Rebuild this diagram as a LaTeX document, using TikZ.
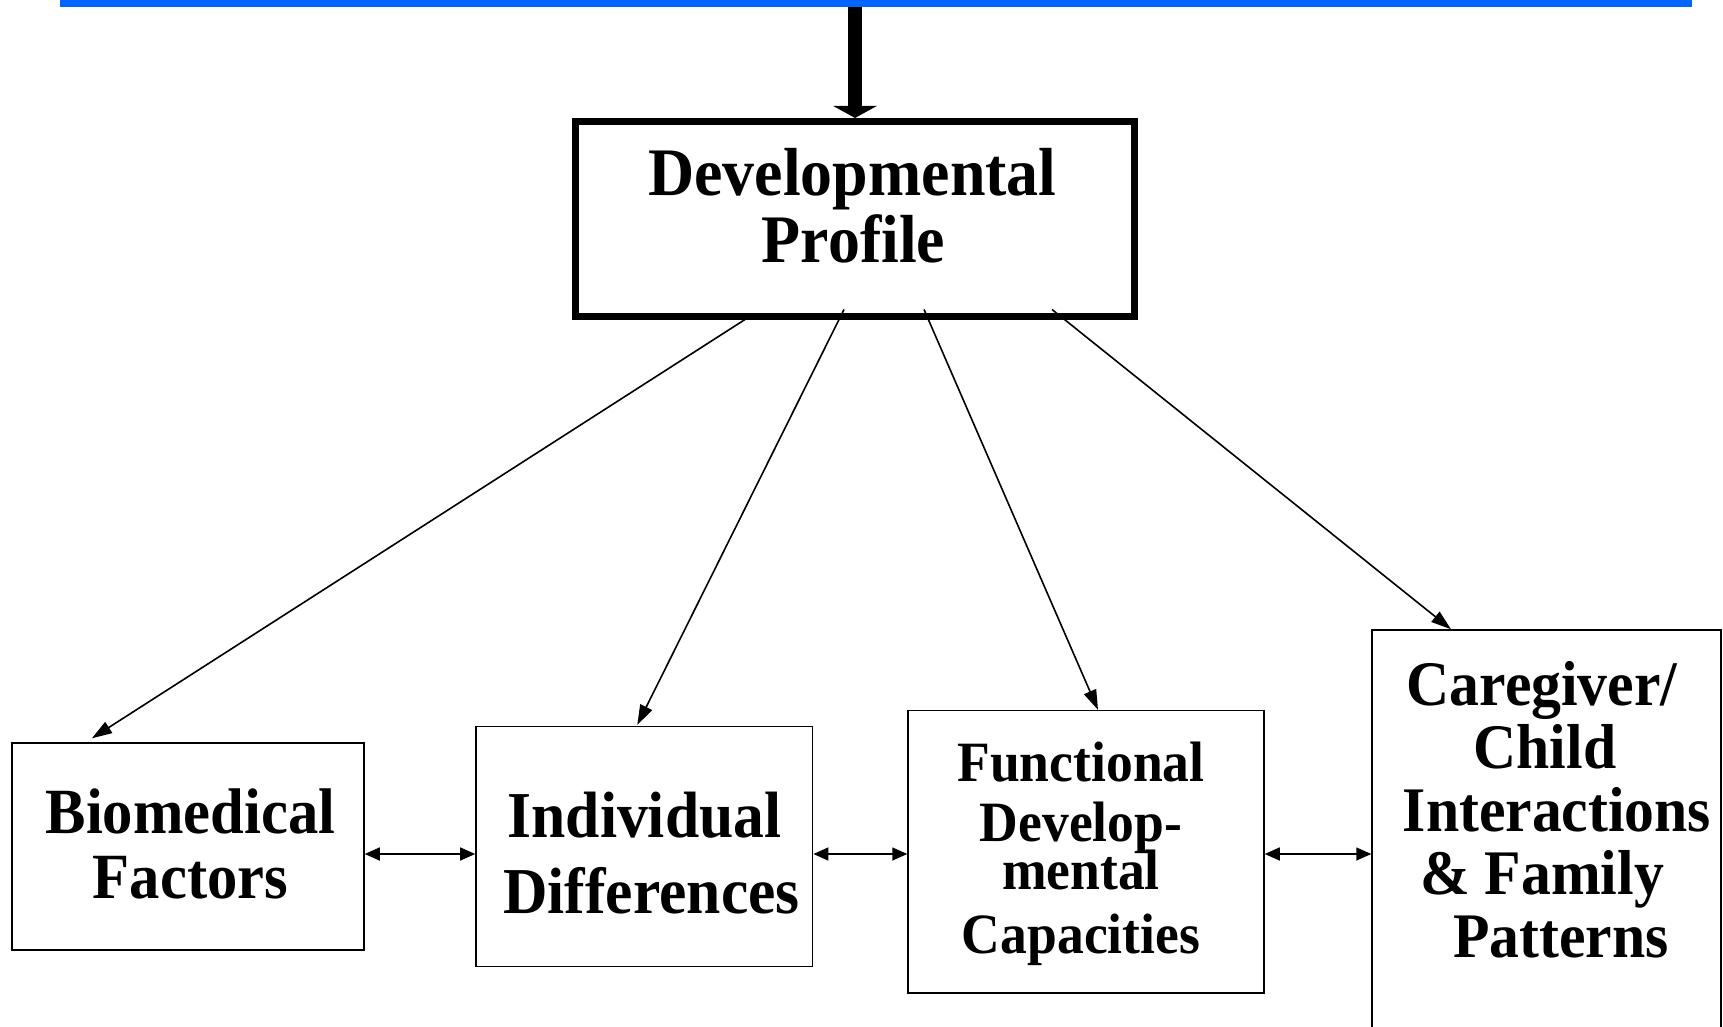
\documentclass[tikz,border=0pt]{standalone}
\usepackage{fontspec}
\setmainfont{Liberation Serif}[FakeStretch=0.94]
\usetikzlibrary{arrows.meta,calc}
\definecolor{bannerblue}{HTML}{0066FF}
\begin{document}
\begin{tikzpicture}[x=1pt,y=-1pt,
  banner/.style={fill=bannerblue, draw=none, rectangle, inner sep=0pt,
    minimum width=1632pt, minimum height=7pt},
  box/.style={draw, rectangle, inner sep=0pt, line width=1.5pt},
  lbl/.style 2 args={align=center, inner sep=0pt,
    font=\fontsize{#1}{#2}\selectfont\bfseries},
  feed/.style={line width=14pt, -{Triangle[length=12pt,width=43pt]}},
  link/.style={line width=1.6pt, -{Triangle[length=20pt,width=13pt]}},
  pair/.style={line width=1.6pt,
    {Triangle[length=15pt,width=13pt]}-{Triangle[length=15pt,width=13pt]}}]
\useasboundingbox (0,0) rectangle (1723,1027);
\clip (0,0) rectangle (1723,1027);

% banner and the profile box it feeds
\node[banner] (top) at (876,3.5) {};
\node[box, line width=7pt, minimum width=559pt, minimum height=194.5pt] (dp) at (855,218.75) {};
\draw[feed] (top.south -| dp.north) -- (dp.north);

% the four assessment areas
\node[box, minimum width=352pt, minimum height=207pt] (b1) at (188,846.5) {};
\node[box, minimum width=336.7pt, minimum height=240pt] (b2) at (644.3,846.7) {};
\node[box, minimum width=356pt, minimum height=282.3pt] (b3) at (1086,851.8) {};
\node[box, minimum width=349pt, minimum height=470pt] (b4) at (1546.5,865) {};

% labels (base anchor sits on the last line)
\node[lbl={68}{67.7}, anchor=base] (dpt) at (852.5,262.7) {Developmental\\\hspace*{2pt}Profile};
\node[lbl={64.5}{65}, anchor=base] (b1t) at (190.5,898) {Biomedical\\Factors};
\node[lbl={65.5}{76}, anchor=base] (b2t) at (644.5,913) {Individual\\\hspace*{14pt}Differences};
\node[lbl={57}{60}, anchor=base] (b3t) at (1081,953.7) {Functional\\Develop-\\[-12pt]mental\\[4pt]Capacities};
\node[lbl={63.5}{63}, anchor=base] (b4t) at (1542,957) {Caregiver/\\\hspace*{6pt}Child\\\hspace*{30pt}Interactions\\\& Family\\\hspace*{38pt}Patterns};

% profile to each area
\draw[link] ($(dp.south)+(-110,0)$) -- ($(b1.north)+(-96,-4)$);
\draw[link] ($(dp.south)+(-11,-10)$) -- ($(b2.north)+(-7,-1)$);
\draw[link] ($(dp.south)+(69,-10)$) -- ($(b3.north)+(12,0)$);
\draw[link] ($(dp.south)+(197,-10)$) -- ($(b4.north)+(-95.5,0)$);

% links between neighbouring areas
\coordinate (hy) at (0,854);
\draw[pair] (b1.east |- hy) -- (b2.west |- hy);
\draw[pair] (b2.east |- hy) -- (b3.west |- hy);
\draw[pair] (b3.east |- hy) -- (b4.west |- hy);
\end{tikzpicture}
\end{document}
